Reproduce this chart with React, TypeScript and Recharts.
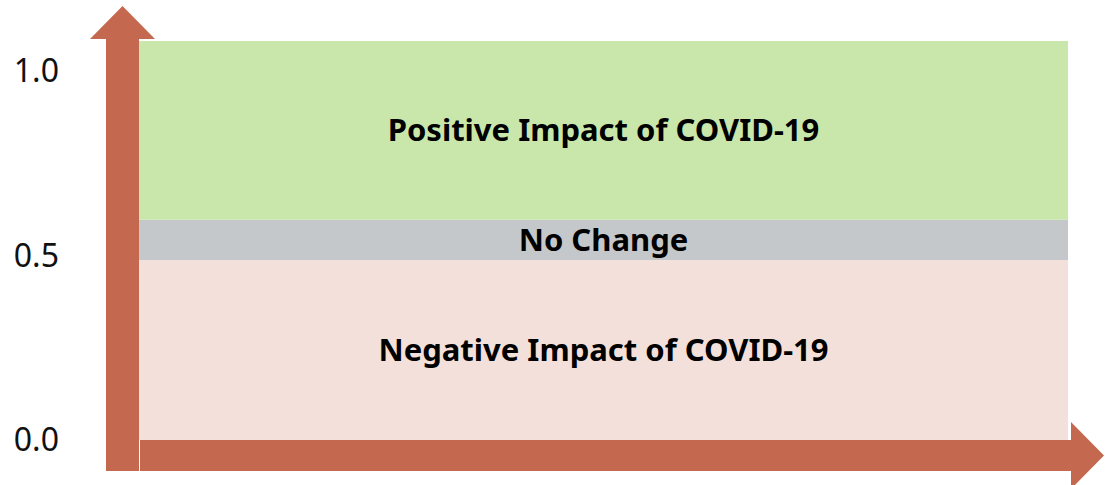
import React from 'react';
import * as R from 'recharts';
import { ComposedChart, XAxis, YAxis, ReferenceArea, Customized } from 'recharts';

// impact bands, bottom to top
const bandNames = ['Negative Impact of COVID-19', 'No Change', 'Positive Impact of COVID-19'];
const bandFrom = [0, 0.487, 0.596];
const bandTo = [0.487, 0.596, 1.08];

const yTicks = [0, 0.5, 1.0];
const yMax = 1.08;

const xPoints = [0, 1];

const bandFill = ['#F3E0DA', '#C5C8CB', '#C9E7AA'];
const ARROW = '#C4694F';
const FONT = '"Noto Sans", "Open Sans", sans-serif';

const W = 1107;
const H = 485;
const MARGIN = { top: 41, right: 39, bottom: 45, left: 0 };
const Y_AXIS_W = 139;

function usePlotBox() {
  const anyR = R as any;
  if (anyR.usePlotArea) {
    const a = anyR.usePlotArea();
    if (a) return a;
  }
  return {
    x: MARGIN.left + Y_AXIS_W,
    y: MARGIN.top,
    width: W - MARGIN.left - Y_AXIS_W - MARGIN.right,
    height: H - MARGIN.top - MARGIN.bottom,
  };
}

/** Thick arrows standing in for the axis lines */
function AxisArrows() {
  const { x, y, width, height } = usePlotBox();
  const L = x;
  const T = y;
  const Rt = x + width;
  const B = y + height;
  const s = 31; // shaft thickness

  const up = [
    [L - 33, B + s],
    [L - 33, T - 2],
    [L - 49, T - 2],
    [L - 16.5, T - 35],
    [L + 16, T - 2],
    [L, T - 2],
    [L, B + s],
  ];
  const right = [
    [L + 1, B],
    [Rt + 3, B],
    [Rt + 3, B - 18],
    [Rt + 36, B + 15.5],
    [Rt + 3, B + 49],
    [Rt + 3, B + s],
    [L + 1, B + s],
  ];
  const pts = (p: number[][]) => p.map((q) => q.join(',')).join(' ');

  return (
    <g>
      <polygon points={pts(up)} fill={ARROW} />
      <polygon points={pts(right)} fill={ARROW} />
    </g>
  );
}

export default function App() {
  const data = xPoints.map((v) => ({ x: v }));

  return (
    <div style={{ width: W, height: H, background: '#fff' }}>
      <style>{'body{margin:0}'}</style>
      <ComposedChart width={W} height={H} data={data} margin={MARGIN}>
        <XAxis dataKey="x" type="number" domain={[0, 1]} hide />
        <YAxis
          type="number"
          domain={[0, yMax]}
          ticks={yTicks}
          width={Y_AXIS_W}
          axisLine={false}
          tickLine={false}
          tickSize={0}
          tickMargin={80}
          tickFormatter={(v: number) => v.toFixed(1)}
          tick={{ fill: '#111', fontSize: 32, fontFamily: FONT }}
          allowDataOverflow
        />
        {bandNames.map((name, i) => (
          <ReferenceArea
            key={name}
            y1={bandFrom[i]}
            y2={bandTo[i]}
            fill={bandFill[i]}
            fillOpacity={1}
            stroke="none"
            ifOverflow="visible"
            label={{
              value: name,
              position: 'center',
              fill: '#000',
              fontSize: 31,
              fontWeight: 700,
              fontFamily: FONT,
            }}
          />
        ))}
        <Customized component={AxisArrows} />
      </ComposedChart>
    </div>
  );
}
